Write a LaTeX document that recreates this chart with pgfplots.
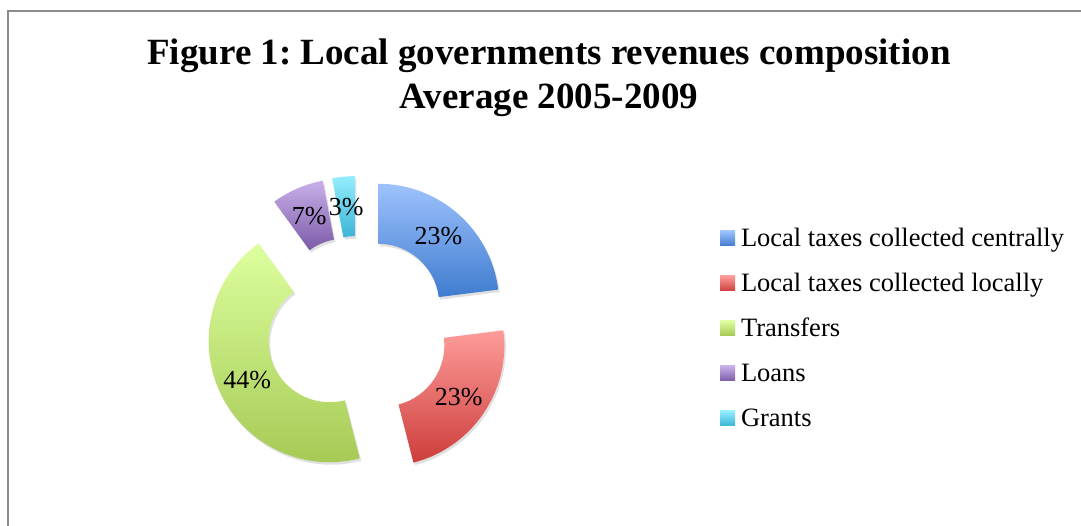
\documentclass[border=0pt]{standalone}
\usepackage{fontspec}
\setmainfont{Liberation Serif}
\usepackage{pgfplots}
\usepackage{pgfplotstable}
\pgfplotsset{compat=1.18}
\usetikzlibrary{calc}
\frenchspacing

% slice gradients, light at top, dark at bottom
\definecolor{slice0top}{HTML}{9EC2FD}\definecolor{slice0bot}{HTML}{3F7CCF}
\definecolor{slice1top}{HTML}{FD9C9A}\definecolor{slice1bot}{HTML}{CD3E3B}
\definecolor{slice2top}{HTML}{DDFF9F}\definecolor{slice2bot}{HTML}{A3C751}
\definecolor{slice3top}{HTML}{C8B0EA}\definecolor{slice3bot}{HTML}{7D5AA8}
\definecolor{slice4top}{HTML}{94EEFE}\definecolor{slice4bot}{HTML}{3AB4D7}
\definecolor{framegray}{HTML}{8C8C8C}

% shares in percent, clockwise from 12 o'clock
\pgfplotstableread{
value
23
23
44
7
3
}\shares
\pgfplotstablecreatecol[expr accum={\pgfmathaccuma+\thisrow{value}}{0}]{cum}\shares

\begin{document}
\begin{tikzpicture}
\begin{axis}[
  hide axis,
  x=1pt, y=1pt,
  xmin=0, xmax=1081, ymin=0, ymax=526,
  clip=false,
  legend image code/.code={\path[#1, draw=none] (0pt,-7.5pt) rectangle (15pt,7.5pt);},
  legend cell align=left,
  legend style={at={(axis cs:720,299)}, anchor=north west, draw=none, fill=none,
    inner sep=0pt, outer sep=0pt, row sep=22pt,
    nodes={inner sep=0pt, text height=20pt, text depth=3pt},
    font=\fontsize{26.5}{30}\selectfont},
  /tikz/every odd column/.append style={column sep=6pt},
]
% chart frame (runs off to the right and bottom)
\draw[framegray, line width=1.5pt] (axis cs:1081,515) -- (axis cs:8,515) -- (axis cs:8,0);

\node[anchor=base, font=\fontsize{37}{40}\selectfont\bfseries] at (axis cs:549,461)
  {Figure 1: Local governments revenues composition};
\node[anchor=base, font=\fontsize{37}{40}\selectfont\bfseries] at (axis cs:549,417)
  {Average 2005-2009};

\pgfplotsextra{
  \foreach \i in {0,...,4}{
    \pgfplotstablegetelem{\i}{value}\of\shares \pgfmathsetmacro\v{\pgfplotsretval}
    \pgfplotstablegetelem{\i}{cum}\of\shares \pgfmathsetmacro\c{\pgfplotsretval}
    \pgfmathtruncatemacro\vlabel{\v}
    \pgfmathsetmacro\aS{90-3.6*(\c-\v)}
    \pgfmathsetmacro\aE{90-3.6*\c}
    \pgfmathsetmacro\aM{(\aS+\aE)/2}
    % exploded slice centre
    \coordinate (o) at ($(axis cs:357.7,198)+(\aM:31pt)$);
    \path[preaction={fill=black, opacity=0.12, transform canvas={xshift=1.5pt, yshift=-2.5pt}},
          top color=slice\i top, bottom color=slice\i bot]
      ($(o)+(\aS:121pt)$) arc[start angle=\aS, end angle=\aE, radius=121pt]
      -- ($(o)+(\aE:61pt)$) arc[start angle=\aE, end angle=\aS, radius=61pt] -- cycle;
    \node[font=\fontsize{26}{30}\selectfont, inner sep=0pt] at ($(o)+(\aM:91pt)$)
      {\vlabel\%};
  }
}

\addlegendimage{top color=slice0top, bottom color=slice0bot}
\addlegendentry{Local taxes collected centrally}
\addlegendimage{top color=slice1top, bottom color=slice1bot}
\addlegendentry{Local taxes collected locally}
\addlegendimage{top color=slice2top, bottom color=slice2bot}
\addlegendentry{Transfers}
\addlegendimage{top color=slice3top, bottom color=slice3bot}
\addlegendentry{Loans}
\addlegendimage{top color=slice4top, bottom color=slice4bot}
\addlegendentry{Grants}
\end{axis}
\pgfresetboundingbox
\path[use as bounding box] (current axis.south west) rectangle (current axis.north east);
\end{tikzpicture}
\end{document}
